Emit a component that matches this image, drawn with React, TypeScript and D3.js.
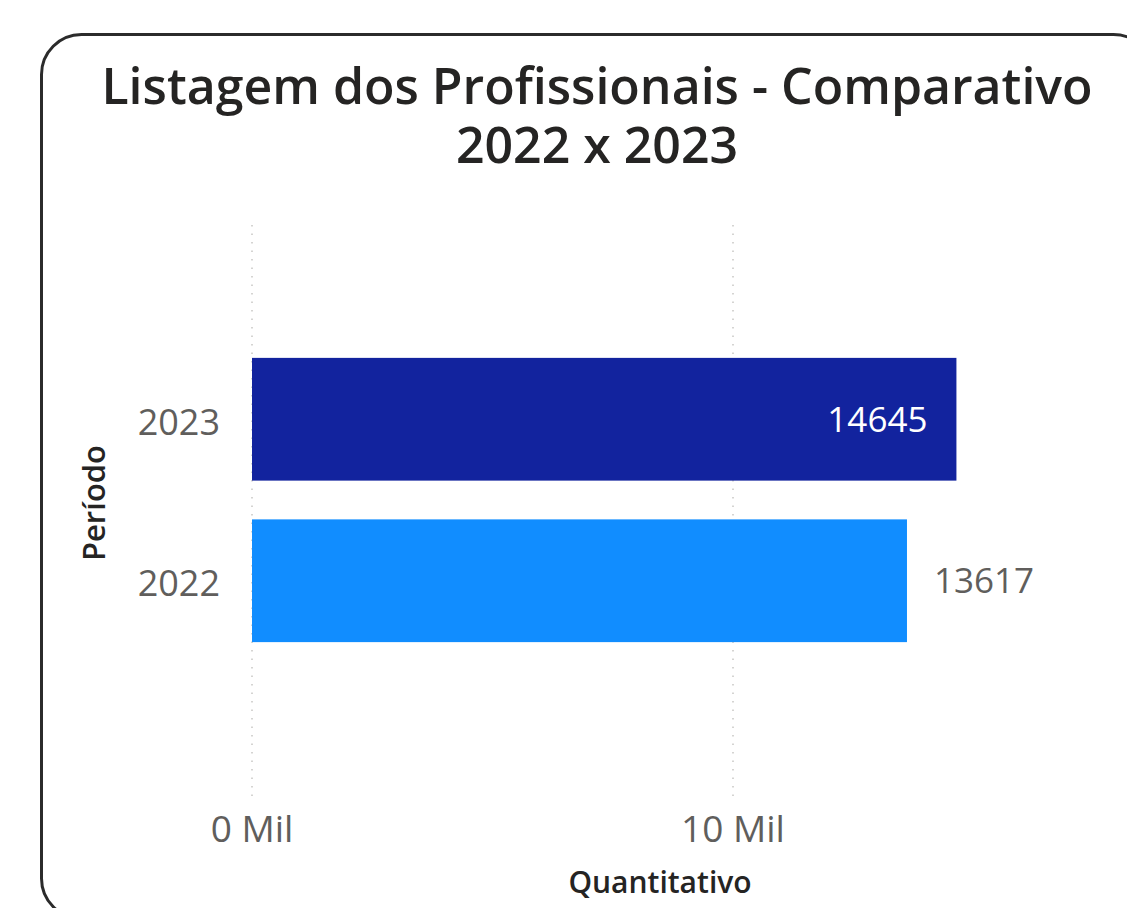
import React from 'react';
import * as d3 from 'd3';

// chart data
const periods = ['2023', '2022'];
const quantities = [14645, 13617];
const barColors = ['#12239E', '#118DFF'];
const xTicks = [0, 10000];

const W = 1127;
const H = 908;
const FONT = "'Open Sans', 'Noto Sans', sans-serif";

export default function App() {
  const x = d3.scaleLinear().domain([0, 15000]).range([252, 973.5]);
  const y = d3
    .scaleBand<string>()
    .domain(periods)
    .range([338.5, 661.5])
    .paddingInner(0.24)
    .paddingOuter(0.12);

  const fmtTick = (v: number) => `${d3.format('d')(v / 1000)} Mil`;

  return (
    <svg
      width={W}
      height={H}
      style={{position: 'absolute', left: 0, top: 0, background: '#fff'}}
    >
      {/* card frame */}
      <rect
        x={41.5}
        y={34.5}
        width={1112}
        height={884}
        rx={40}
        ry={40}
        fill="#fff"
        stroke="#2b2b2b"
        strokeWidth={3}
      />

      {/* title */}
      <g fontFamily={FONT} fill="#252423" textAnchor="middle" fontSize={50} fontWeight={600}>
        <text x={597} y={104}>Listagem dos Profissionais - Comparativo</text>
        <text x={597} y={163}>2022 x 2023</text>
      </g>

      {/* dotted grid */}
      {xTicks.map(t => (
        <line
          key={t}
          x1={x(t)}
          x2={x(t)}
          y1={225}
          y2={800}
          stroke="#c8c6c4"
          strokeWidth={1.5}
          strokeDasharray="1.5 7"
        />
      ))}

      {/* bars */}
      {periods.map((p, i) => (
        <rect
          key={p}
          x={x(0)}
          y={y(p)}
          width={x(quantities[i]) - x(0)}
          height={y.bandwidth()}
          fill={barColors[i]}
        />
      ))}

      {/* data labels */}
      {periods.map((p, i) => {
        const end = x(quantities[i]);
        const inside = i === 0;
        return (
          <text
            key={p}
            x={inside ? end - 29 : end + 27}
            y={(y(p) as number) + y.bandwidth() / 2}
            dy="0.35em"
            textAnchor={inside ? 'end' : 'start'}
            fontFamily={FONT}
            fontSize={35}
            fill={inside ? '#ffffff' : '#605E5C'}
          >
            {quantities[i]}
          </text>
        );
      })}

      {/* y tick labels */}
      {periods.map(p => (
        <text
          key={p}
          x={220}
          y={(y(p) as number) + y.bandwidth() / 2 + 3}
          dy="0.35em"
          textAnchor="end"
          fontFamily={FONT}
          fontSize={36}
          fill="#605E5C"
        >
          {p}
        </text>
      ))}

      {/* x tick labels */}
      {xTicks.map(t => (
        <text
          key={t}
          x={x(t)}
          y={842}
          textAnchor="middle"
          fontFamily={FONT}
          fontSize={37}
          fill="#605E5C"
        >
          {fmtTick(t)}
        </text>
      ))}

      {/* axis titles */}
      <text
        x={660}
        y={893}
        textAnchor="middle"
        fontFamily={FONT}
        fontSize={30}
        fontWeight={600}
        fill="#252423"
      >
        Quantitativo
      </text>
      <text
        transform="translate(105,503) rotate(-90)"
        textAnchor="middle"
        fontFamily={FONT}
        fontSize={31}
        fontWeight={600}
        fill="#252423"
      >
        Período
      </text>
    </svg>
  );
}
